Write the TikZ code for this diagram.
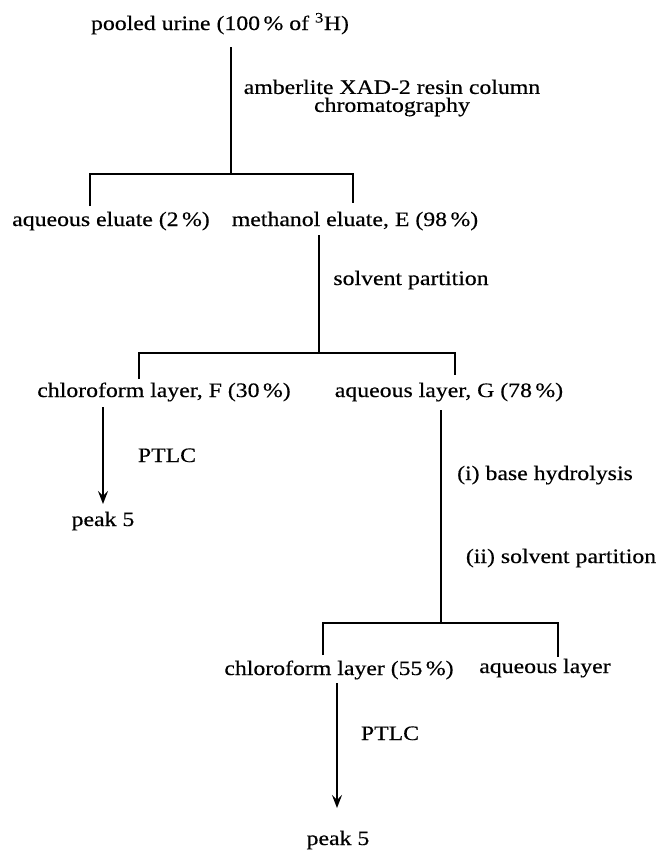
\documentclass[tikz,border=0pt]{standalone}
\usepackage{fontspec}
\setmainfont{Liberation Serif}[FakeStretch=1.16,FakeBold=0.4]
\usetikzlibrary{arrows.meta}
\begin{document}
\begin{tikzpicture}[x=1pt,y=-1pt,
  txt/.style={inner sep=0pt,anchor=base,font=\fontsize{20.5}{18}\selectfont},
  ln/.style={line width=1.3pt},
  arr/.style={line width=1.4pt,-{Stealth[length=13pt,width=10pt,inset=5pt]}}]
\useasboundingbox (0,0) rectangle (660,852);
\fill[white] (0,0) rectangle (660,852);
% texts
\node[txt] (pool) at (220,30) {pooled urine (100\,\% of \textsuperscript{3}H)};
\node[txt,anchor=center,align=center] (amb) at (392,98) {amberlite XAD-2 resin column\\chromatography};
\node[txt] (aqE) at (111,226) {aqueous eluate (2\,\%)};
\node[txt] (metE) at (355,226) {methanol eluate, E (98\,\%)};
\node[txt] (solv) at (411,285) {solvent partition};
\node[txt] (chlF) at (164,397) {chloroform layer, F (30\,\%)};
\node[txt] (aqG) at (449,397) {aqueous layer, G (78\,\%)};
\node[txt] (ptlcA) at (167,462) {PTLC};
\node[txt] (peakA) at (103,526) {peak 5};
\node[txt] (hyd) at (545,480) {(i) base hydrolysis};
\node[txt] (solvB) at (561,563) {(ii) solvent partition};
\node[txt] (chlB) at (339,675) {chloroform layer (55\,\%)};
\node[txt] (aqL) at (545,673) {aqueous layer};
\node[txt] (ptlcB) at (390,740) {PTLC};
\node[txt] (peakB) at (338,845) {peak 5};
% junction coordinates
\coordinate (s1) at (231,47);
\coordinate (j1) at (231,174);
\coordinate (j1l) at (90,174);
\coordinate (j1r) at (353,174);
\coordinate (d1l) at (90,206);
\coordinate (d1r) at (353,203);
\coordinate (s2) at (319,235);
\coordinate (j2) at (319,353);
\coordinate (j2l) at (139,353);
\coordinate (j2r) at (455,353);
\coordinate (d2l) at (139,379);
\coordinate (d2r) at (455,375);
\coordinate (s3) at (441,410);
\coordinate (j3) at (441,623);
\coordinate (j3l) at (323,623);
\coordinate (j3r) at (558,623);
\coordinate (d3l) at (323,655);
\coordinate (d3r) at (558,657);
\coordinate (a1s) at (103,407);
\coordinate (a1e) at (103,504);
\coordinate (a2s) at (337,683);
\coordinate (a2e) at (337,808);
% connectors
\draw[ln] (s1) -- (j1);
\draw[ln] (d1l) -- (j1l) -- (j1r) -- (d1r);
\draw[ln] (s2) -- (j2);
\draw[ln] (d2l) -- (j2l) -- (j2r) -- (d2r);
\draw[ln] (s3) -- (j3);
\draw[ln] (d3l) -- (j3l) -- (j3r) -- (d3r);
\draw[arr] (a1s) -- (a1e);
\draw[arr] (a2s) -- (a2e);
\end{tikzpicture}
\end{document}
